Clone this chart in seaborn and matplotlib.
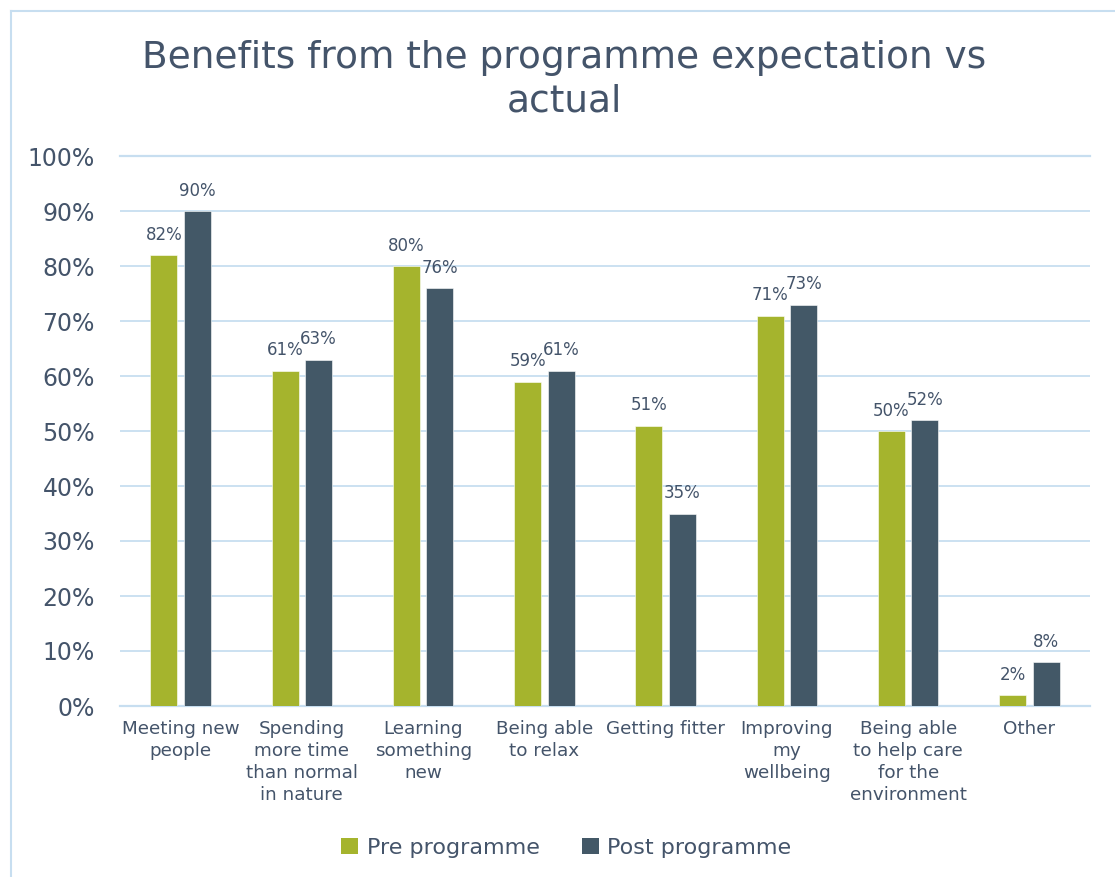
import matplotlib
matplotlib.use("Agg")
import matplotlib.pyplot as plt
from matplotlib.lines import Line2D
from matplotlib.patches import Patch
import seaborn as sns
import pandas as pd

categories = [
    "Meeting new\npeople",
    "Spending\nmore time\nthan normal\nin nature",
    "Learning\nsomething\nnew",
    "Being able\nto relax",
    "Getting fitter",
    "Improving\nmy\nwellbeing",
    "Being able\nto help care\nfor the\nenvironment",
    "Other",
]
pre_programme = [82, 61, 80, 59, 51, 71, 50, 2]
post_programme = [90, 63, 76, 61, 35, 73, 52, 8]
series_names = ["Pre programme", "Post programme"]
y_ticks = [0, 10, 20, 30, 40, 50, 60, 70, 80, 90, 100]

text_color = "#44546A"
grid_color = "#C7DEF0"
colors = ["#A5B42D", "#435867"]

df = pd.DataFrame({
    "category": categories * 2,
    "series": [series_names[0]] * len(categories) + [series_names[1]] * len(categories),
    "value": pre_programme + post_programme,
})

fig = plt.figure(figsize=(11.15, 8.77), dpi=100)
ax = fig.add_axes([120 / 1115, 1 - 706 / 877, 970 / 1115, 550 / 877])

sns.barplot(
    data=df, x="category", y="value", hue="series",
    order=categories, hue_order=series_names,
    palette=colors, saturation=1, width=0.55, gap=0.19,
    edgecolor="white", linewidth=0.4, legend=False, ax=ax,
)

ax.set_ylim(0, 100)
ax.set_xlim(-0.5, len(categories) - 0.5)
ax.set_yticks(y_ticks)
ax.set_yticklabels([f"{t}%" for t in y_ticks])
ax.set_xlabel("")
ax.set_ylabel("")
for s in ax.spines.values():
    s.set_visible(False)
ax.set_axisbelow(True)
ax.yaxis.grid(True, color=grid_color, linewidth=1.3)
ax.xaxis.grid(False)
# full-width lines at the axis limits so they are not half clipped
for yv in (0, 100):
    ax.axhline(yv, color=grid_color, linewidth=1.6, clip_on=False, zorder=0.5)
ax.tick_params(axis="y", length=0, pad=18, labelsize=17, labelcolor=text_color)
ax.tick_params(axis="x", length=0, pad=10, labelsize=13.2, labelcolor=text_color)
for lbl in ax.get_xticklabels():
    lbl.set_linespacing(1.3)

# value labels above each bar
for container, vals in zip(ax.containers, [pre_programme, post_programme]):
    ax.bar_label(container, labels=[f"{v}%" for v in vals], padding=8,
                 fontsize=12, color=text_color)

fig.text(0.506, 0.909, "Benefits from the programme expectation vs\nactual",
         ha="center", va="center", fontsize=27, color=text_color, linespacing=1.25)

handles = [Patch(facecolor=c, edgecolor="none") for c in colors]
fig.legend(handles, series_names, loc="center", bbox_to_anchor=(0.508, 0.033),
           ncol=2, frameon=False, fontsize=16, labelcolor=text_color,
           handlelength=0.75, handleheight=0.75, handletextpad=0.4, columnspacing=1.9)

# light frame along the top and left edges
fig.add_artist(Line2D([11 / 1115, 11 / 1115], [0, 1 - 11 / 877], color=grid_color,
                      linewidth=1.5, transform=fig.transFigure))
fig.add_artist(Line2D([11 / 1115, 1], [1 - 11 / 877, 1 - 11 / 877], color=grid_color,
                      linewidth=1.5, transform=fig.transFigure))

fig.savefig("out.png", dpi=100)
